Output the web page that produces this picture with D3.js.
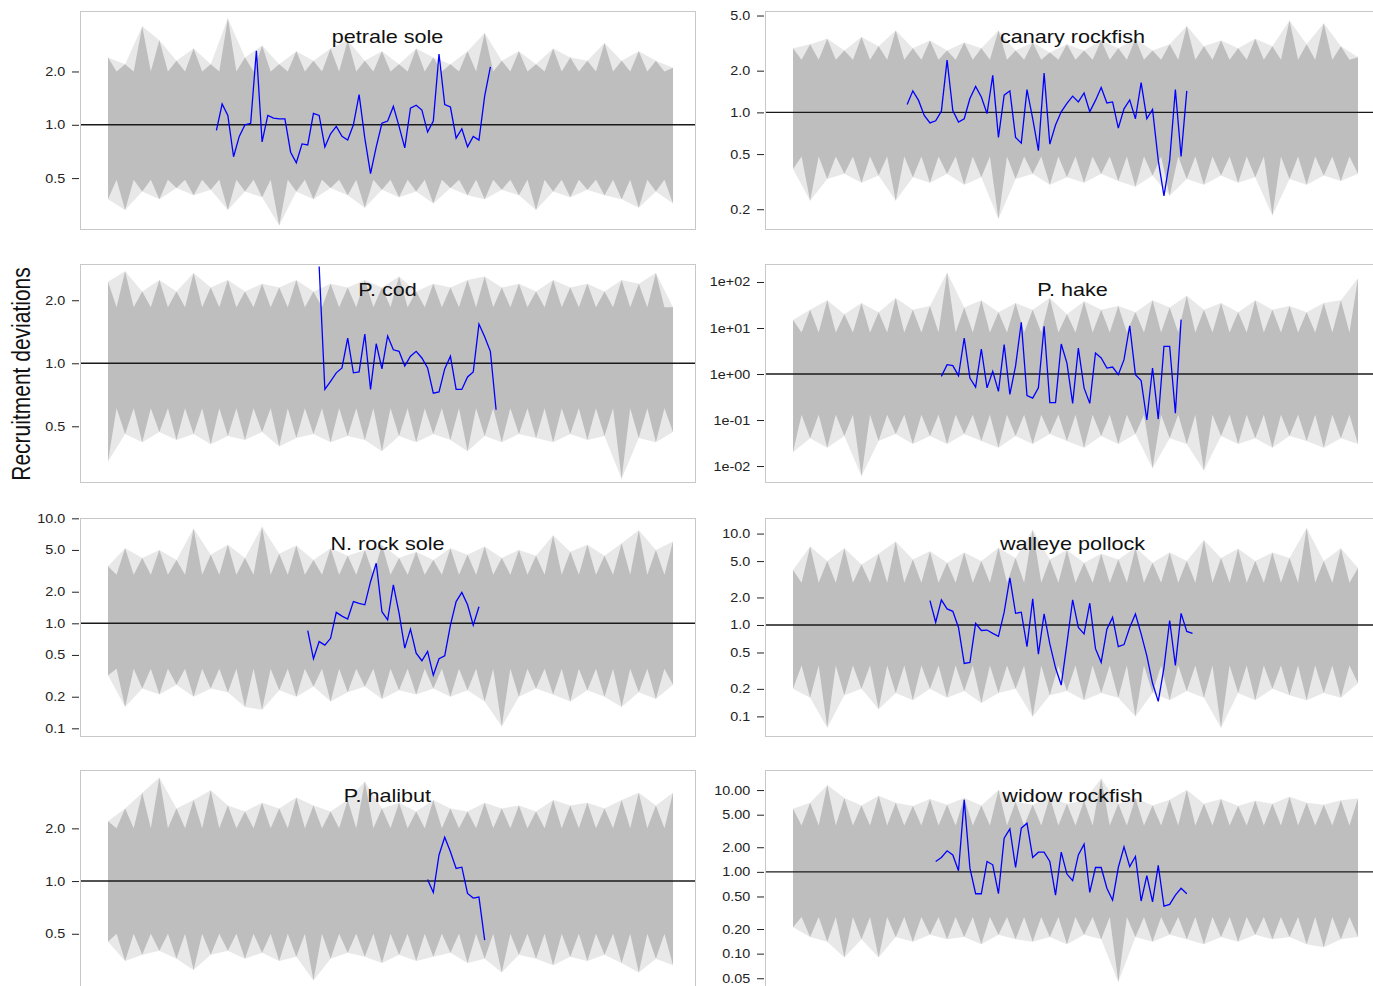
<!DOCTYPE html>
<html>
<head>
<meta charset="utf-8">
<script src="https://cdn.jsdelivr.net/npm/d3@7"></script>
<style>
  body { margin: 0; background: #fff; }
  text { font-family: "Liberation Sans", Arial, sans-serif; }
</style>
</head>
<body>
<svg id="chart" width="1373" height="986"></svg>
<script>
// panel order: left/right, top to bottom
const species = ["petrale sole", "canary rockfish", "P. cod", "P. hake",
                 "N. rock sole", "walleye pollock", "P. halibut", "widow rockfish"];

// observed recruitment deviations (blue), first simulation year of each series
const firstYear = [20, 21, 38, 27, 36, 25, 57, 26];
const petrale = [0.93, 1.31, 1.13, 0.66, 0.86, 1.00, 1.02, 2.62, 0.80, 1.13, 1.09, 1.08, 1.08, 0.70, 0.61, 0.78, 0.77,
  1.16, 1.13, 0.75, 0.89, 0.98, 0.86, 0.82, 1.00, 1.48, 0.84, 0.53, 0.75, 1.02, 1.05, 1.27, 0.98, 0.74, 1.24, 1.29,
  1.21, 0.91, 1.05, 2.51, 1.30, 1.26, 0.84, 0.95, 0.75, 0.86, 0.82, 1.45, 2.12];
const canary = [1.14, 1.43, 1.22, 0.95, 0.84, 0.87, 1.02, 2.38, 1.03, 0.85, 0.90, 1.26, 1.54, 1.29, 0.98, 1.85, 0.66,
  1.33, 1.43, 0.66, 0.60, 1.46, 0.90, 0.53, 1.92, 0.59, 0.81, 1.01, 1.16, 1.31, 1.19, 1.38, 1.01, 1.22, 1.51, 1.17,
  1.19, 0.77, 1.06, 1.23, 0.90, 1.64, 0.90, 1.05, 0.45, 0.25, 0.45, 1.46, 0.48, 1.43];
const cod = [2.90, 0.75, 0.82, 0.90, 0.95, 1.32, 0.90, 0.91, 1.38, 0.75, 1.24, 0.94, 1.35, 1.16, 1.14, 0.97, 1.08,
  1.14, 1.06, 0.95, 0.72, 0.73, 0.94, 1.08, 0.75, 0.75, 0.86, 0.91, 1.54, 1.34, 1.14, 0.60];
const hake = [0.89, 1.60, 1.52, 0.92, 6.06, 0.82, 0.52, 3.50, 0.50, 1.14, 0.42, 4.34, 0.36, 1.5, 13.3, 0.34, 0.30,
  0.50, 10.9, 0.24, 0.24, 4.49, 1.73, 0.23, 3.67, 0.50, 0.23, 2.86, 2.23, 1.35, 1.42, 0.97, 2.05, 11.2, 0.97, 0.72,
  0.10, 1.35, 0.105, 4.0, 4.0, 0.14, 15.2];
const rockSole = [0.85, 0.46, 0.67, 0.62, 0.72, 1.27, 1.17, 1.10, 1.61, 1.55, 1.50, 2.49, 3.73, 1.29, 1.08, 2.32,
  1.25, 0.58, 0.88, 0.52, 0.44, 0.54, 0.32, 0.46, 0.49, 0.96, 1.61, 1.97, 1.50, 0.96, 1.44];
const pollock = [1.85, 1.07, 1.88, 1.50, 1.41, 0.94, 0.38, 0.39, 1.04, 0.87, 0.88, 0.81, 0.75, 1.38, 3.27, 1.34, 1.38,
  0.58, 1.93, 0.48, 1.32, 0.62, 0.34, 0.22, 0.63, 1.88, 0.94, 0.80, 1.73, 0.55, 0.39, 0.90, 1.21, 0.58, 0.61, 0.94,
  1.32, 0.80, 0.46, 0.23, 0.146, 0.34, 1.12, 0.36, 1.34, 0.85, 0.81];
const halibut = [1.02, 0.86, 1.41, 1.78, 1.47, 1.18, 1.20, 0.85, 0.80, 0.81, 0.46];
const widow = [1.34, 1.50, 1.81, 1.61, 1.03, 7.60, 1.11, 0.54, 0.54, 1.34, 1.22, 0.54, 2.58, 3.36, 1.13, 3.42, 3.94,
  1.50, 1.74, 1.74, 1.34, 0.52, 1.74, 0.94, 0.78, 1.61, 2.18, 0.56, 1.13, 1.13, 0.63, 0.45, 1.13, 2.02, 1.16, 1.54,
  0.44, 0.90, 0.43, 1.20, 0.38, 0.40, 0.52, 0.63, 0.54];
const observed = [petrale, canary, cod, hake, rockSole, pollock, halibut, widow];

// simulated trajectories (grey): dense core limits per panel
const coreLow = [0.49, 0.48, 0.61, 0.13, 0.37, 0.36, 0.50, 0.28];
const coreHigh = [2.0, 2.4, 1.85, 8.0, 2.9, 2.9, 2.0, 3.7];

// outer spikes of the simulated trajectories, every third year 1..100
const bandYears = d3.range(1, 101, 3);
const petraleHi = [2.4, 2.2, 3.6, 3.0, 2.3, 2.7, 2.2, 4.0, 2.4, 2.8, 2.2, 2.6, 2.3, 2.7, 3.0, 2.3, 2.6, 2.2, 2.7, 2.4,
  2.2, 2.6, 3.3, 2.3, 2.6, 2.2, 2.7, 2.4, 2.3, 2.9, 2.3, 2.6, 2.3, 2.1];
const petraleLo = [0.38, 0.33, 0.42, 0.38, 0.44, 0.40, 0.43, 0.33, 0.42, 0.39, 0.27, 0.42, 0.38, 0.44, 0.40, 0.34,
  0.43, 0.39, 0.42, 0.36, 0.44, 0.40, 0.38, 0.43, 0.40, 0.33, 0.42, 0.39, 0.43, 0.40, 0.38, 0.34, 0.42, 0.36];
const canaryHi = [2.9, 3.1, 3.4, 2.8, 3.5, 3.0, 3.9, 2.9, 3.3, 2.8, 3.2, 2.9, 3.9, 2.8, 3.2, 2.7, 3.1, 2.8, 3.3, 2.9,
  3.4, 2.8, 3.1, 4.2, 3.0, 3.3, 2.9, 3.4, 3.0, 4.6, 3.1, 4.4, 3.0, 2.5];
const canaryLo = [0.39, 0.23, 0.33, 0.36, 0.31, 0.35, 0.23, 0.34, 0.31, 0.36, 0.30, 0.34, 0.17, 0.33, 0.36, 0.30,
  0.34, 0.31, 0.36, 0.32, 0.29, 0.35, 0.25, 0.33, 0.30, 0.35, 0.31, 0.34, 0.18, 0.33, 0.30, 0.35, 0.32, 0.36];
const codHi = [2.45, 2.75, 2.2, 2.5, 2.2, 2.7, 2.3, 2.5, 2.2, 2.4, 2.3, 2.5, 2.2, 2.4, 2.3, 2.5, 2.3, 2.6, 2.2, 2.4,
  2.3, 2.5, 2.6, 2.3, 2.4, 2.2, 2.5, 2.3, 2.4, 2.2, 2.5, 2.4, 2.7, 1.85];
const codLo = [0.34, 0.46, 0.42, 0.47, 0.43, 0.46, 0.41, 0.45, 0.43, 0.47, 0.40, 0.44, 0.46, 0.42, 0.45, 0.43, 0.38,
  0.45, 0.42, 0.46, 0.43, 0.38, 0.45, 0.42, 0.46, 0.44, 0.42, 0.46, 0.43, 0.45, 0.28, 0.44, 0.42, 0.47];
const hakeHi = [15, 25, 40, 20, 35, 22, 45, 25, 30, 160, 28, 40, 22, 35, 25, 45, 20, 38, 25, 30, 22, 40, 28, 50, 25,
  35, 22, 40, 25, 30, 22, 35, 40, 120];
const hakeLo = [0.02, 0.04, 0.025, 0.045, 0.006, 0.035, 0.05, 0.03, 0.045, 0.03, 0.05, 0.035, 0.025, 0.045, 0.03,
  0.05, 0.035, 0.025, 0.045, 0.03, 0.05, 0.009, 0.04, 0.03, 0.008, 0.045, 0.03, 0.04, 0.025, 0.045, 0.035, 0.025,
  0.04, 0.03];
const rockSoleHi = [3.5, 5.2, 4.2, 5.0, 4.0, 8.0, 4.5, 5.6, 4.2, 8.3, 4.6, 5.5, 4.0, 5.2, 4.4, 5.0, 5.6, 4.2, 4.8,
  4.0, 5.2, 4.5, 5.4, 4.2, 5.0, 4.4, 6.9, 4.8, 5.6, 4.4, 5.8, 7.7, 5.0, 6.0];
const rockSoleLo = [0.32, 0.16, 0.24, 0.21, 0.26, 0.20, 0.24, 0.22, 0.16, 0.15, 0.23, 0.20, 0.25, 0.18, 0.22, 0.25,
  0.19, 0.23, 0.21, 0.24, 0.20, 0.23, 0.18, 0.104, 0.20, 0.24, 0.21, 0.18, 0.23, 0.20, 0.16, 0.22, 0.19, 0.26];
const pollockHi = [4.0, 7.2, 5.0, 6.9, 4.6, 6.0, 8.2, 5.2, 6.4, 4.8, 6.2, 5.0, 7.0, 5.4, 11.0, 5.2, 6.6, 4.8, 6.0,
  5.2, 7.0, 4.8, 6.2, 5.0, 8.5, 5.4, 6.8, 5.0, 6.2, 5.4, 11.5, 5.0, 6.9, 4.2];
const pollockLo = [0.20, 0.16, 0.075, 0.17, 0.20, 0.12, 0.18, 0.15, 0.20, 0.16, 0.19, 0.14, 0.18, 0.20, 0.099, 0.17,
  0.19, 0.15, 0.18, 0.16, 0.10, 0.18, 0.15, 0.19, 0.16, 0.075, 0.18, 0.15, 0.20, 0.17, 0.15, 0.18, 0.16, 0.23];
const halibutHi = [2.2, 2.6, 3.2, 3.9, 2.6, 2.9, 3.3, 2.7, 2.5, 2.8, 2.6, 3.0, 2.7, 2.5, 2.9, 3.7, 2.6, 2.8, 2.5,
  2.9, 2.6, 2.5, 2.8, 2.6, 2.7, 2.5, 2.9, 2.7, 2.8, 2.6, 2.9, 3.2, 2.7, 3.2];
const halibutLo = [0.45, 0.35, 0.38, 0.40, 0.36, 0.31, 0.38, 0.40, 0.36, 0.39, 0.35, 0.37, 0.27, 0.36, 0.39, 0.37,
  0.34, 0.38, 0.35, 0.37, 0.39, 0.34, 0.36, 0.30, 0.38, 0.36, 0.33, 0.37, 0.35, 0.38, 0.34, 0.30, 0.36, 0.33];
const widowHi = [5.9, 7.0, 11.5, 8.0, 6.5, 8.5, 7.0, 6.4, 7.8, 6.6, 8.0, 6.5, 10.0, 7.2, 6.6, 8.2, 6.8, 7.4, 13.9,
  6.8, 8.0, 6.5, 7.6, 10.0, 6.8, 7.8, 6.4, 7.4, 6.8, 8.3, 7.0, 6.6, 7.5, 7.9];
const widowLo = [0.21, 0.16, 0.14, 0.09, 0.15, 0.09, 0.16, 0.14, 0.17, 0.15, 0.16, 0.13, 0.17, 0.15, 0.14, 0.16,
  0.13, 0.17, 0.15, 0.045, 0.16, 0.14, 0.17, 0.15, 0.13, 0.16, 0.14, 0.17, 0.15, 0.16, 0.13, 0.12, 0.15, 0.16];
const bandHi = [petraleHi, canaryHi, codHi, hakeHi, rockSoleHi, pollockHi, halibutHi, widowHi];
const bandLo = [petraleLo, canaryLo, codLo, hakeLo, rockSoleLo, pollockLo, halibutLo, widowLo];

// y axis (log) limits and ticks per panel
const yLimits = [[0.258, 4.39], [0.144, 5.39], [0.271, 2.98], [0.0045, 246],
                 [0.0845, 10.07], [0.061, 14.8], [0.245, 4.31], [0.038, 17.6]];
const tickValues = [[0.5, 1, 2], [0.2, 0.5, 1, 2, 5], [0.5, 1, 2], [0.01, 0.1, 1, 10, 100],
                    [0.1, 0.2, 0.5, 1, 2, 5, 10], [0.1, 0.2, 0.5, 1, 2, 5, 10], [0.5, 1, 2],
                    [0.05, 0.1, 0.2, 0.5, 1, 2, 5, 10]];
const tickLabels = [["0.5", "1.0", "2.0"], ["0.2", "0.5", "1.0", "2.0", "5.0"], ["0.5", "1.0", "2.0"],
                    ["1e-02", "1e-01", "1e+00", "1e+01", "1e+02"],
                    ["0.1", "0.2", "0.5", "1.0", "2.0", "5.0", "10.0"],
                    ["0.1", "0.2", "0.5", "1.0", "2.0", "5.0", "10.0"], ["0.5", "1.0", "2.0"],
                    ["0.05", "0.10", "0.20", "0.50", "1.00", "2.00", "5.00", "10.00"]];

const colLeft = [80, 765];
const rowTop = [11, 264, 518, 770];
const frameW = 615, frameH = 218;

const svg = d3.select("#chart");
const defs = svg.append("defs");

species.forEach((name, i) => {
  const x0 = colLeft[i % 2];
  const y0 = rowTop[Math.floor(i / 2)];
  const x = d3.scaleLinear().domain([1, 100]).range([x0 + 28, x0 + frameW - 22]);
  const y = d3.scaleLog().domain(yLimits[i]).range([y0 + frameH, y0]);

  defs.append("clipPath").attr("id", "clip" + i)
    .append("rect").attr("x", x0).attr("y", y0).attr("width", frameW).attr("height", frameH);

  const g = svg.append("g").attr("class", "panel");
  const plot = g.append("g").attr("clip-path", `url(#clip${i})`);
  const area = d3.area().x(d => x(d.yr)).y0(d => y(d.lo)).y1(d => y(d.hi));

  // sparse outer trajectories: pale envelope through the spike tops
  const outer = bandYears.map((yr, j) => ({ yr: yr, lo: bandLo[i][j], hi: bandHi[i][j] }));
  plot.append("path")
    .datum(outer)
    .attr("fill", "#bebebe")
    .attr("fill-opacity", 0.35)
    .attr("d", area);

  // dense core, spiking out at each band year
  const band = [];
  bandYears.forEach((yr, j) => {
    band.push({ yr: yr, lo: bandLo[i][j], hi: bandHi[i][j] });
    if (j < bandYears.length - 1) band.push({ yr: yr + 1.5, lo: coreLow[i], hi: coreHigh[i] });
  });
  plot.append("path")
    .datum(band)
    .attr("fill", "#bebebe")
    .attr("d", area);

  plot.append("line")
    .attr("x1", x0).attr("x2", x0 + frameW)
    .attr("y1", y(1)).attr("y2", y(1))
    .attr("stroke", "#1a1a1a").attr("stroke-width", 1.4);

  const obs = observed[i].map((v, j) => ({ yr: firstYear[i] + j, v: v }));
  plot.append("path")
    .datum(obs)
    .attr("fill", "none")
    .attr("stroke", "#0000ff")
    .attr("stroke-width", 1.3)
    .attr("d", d3.line().x(d => x(d.yr)).y(d => y(d.v)));

  g.append("rect")
    .attr("x", x0 + 0.5).attr("y", y0 + 0.5)
    .attr("width", frameW).attr("height", frameH)
    .attr("fill", "none").attr("stroke", "#c8c8c8");

  const axis = g.append("g")
    .attr("transform", `translate(${x0 - 1},0)`)
    .call(d3.axisLeft(y).tickValues(tickValues[i]).tickFormat((d, k) => tickLabels[i][k])
      .tickSize(7).tickPadding(5));
  axis.select(".domain").remove();
  axis.selectAll(".tick line").attr("stroke", "#222");
  axis.selectAll(".tick text")
    .attr("fill", "#222")
    .style("font-size", "12.5px")
    .attr("transform", "scale(1.15,1)");

  g.append("text")
    .attr("transform", `translate(${x0 + frameW / 2},${y0 + 32}) scale(1.2,1)`)
    .attr("text-anchor", "middle")
    .style("font-size", "18px")
    .attr("fill", "#111")
    .text(name);
});

svg.append("text")
  .attr("transform", "translate(30,374) scale(1.2,1) rotate(-90)")
  .attr("text-anchor", "middle")
  .style("font-size", "21px")
  .attr("fill", "#111")
  .text("Recruitment deviations");
</script>
</body>
</html>
